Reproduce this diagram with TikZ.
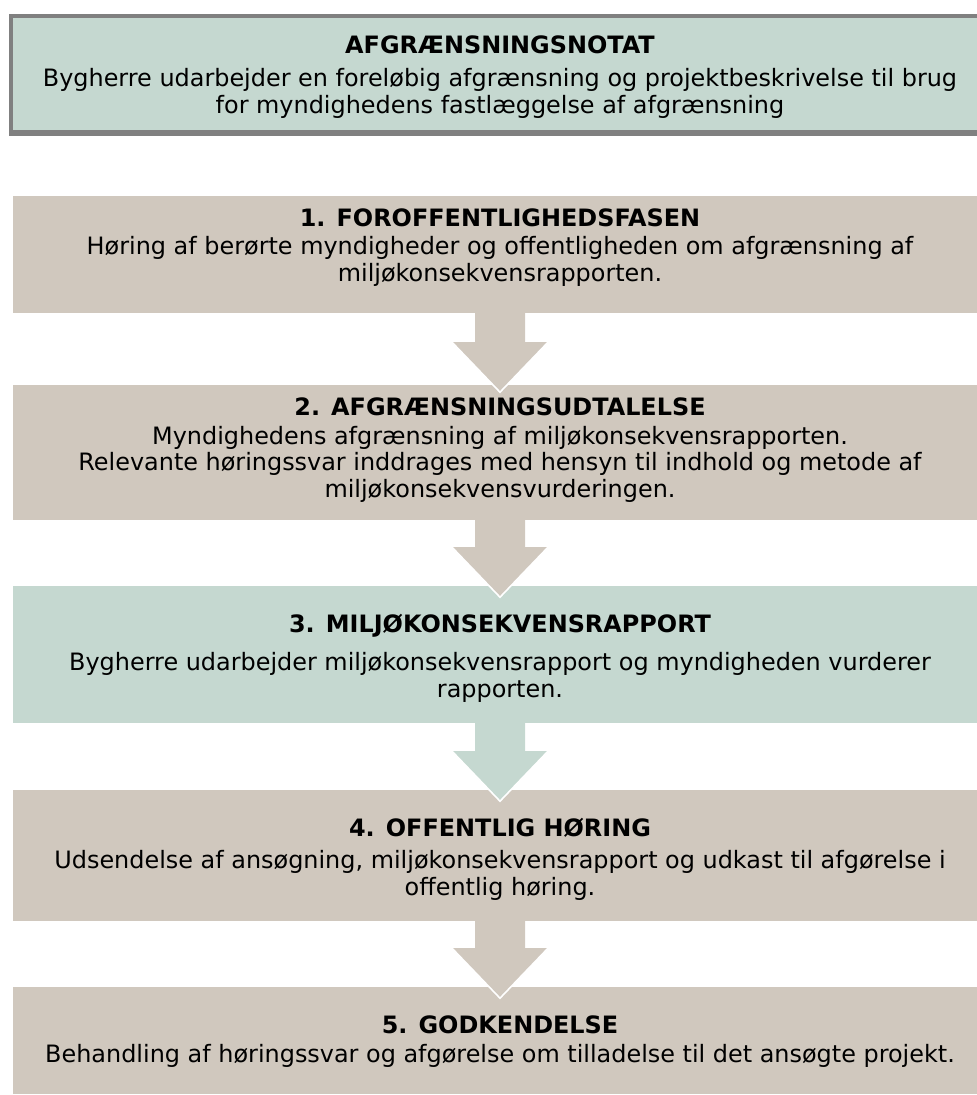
\documentclass[tikz,border=0pt]{standalone}
\usepackage{fontspec}
\setmainfont{DejaVu Sans}
\usetikzlibrary{calc}
\definecolor{sage}{RGB}{197,216,208}
\definecolor{sand}{RGB}{208,200,190}
\definecolor{frame}{RGB}{128,128,128}
\tikzset{
  boxnode/.style={rectangle, inner sep=0pt, minimum width=974bp, draw=none},
  titlenode/.style={anchor=base, inner sep=0pt, font=\fontsize{24}{27}\selectfont\bfseries},
  bodynode/.style={anchor=base, inner sep=0pt, align=center, font=\fontsize{24}{26.5}\selectfont},
  flowarrow/.style={draw=white, line width=1.6bp, line join=miter},
}
\newcommand{\flowarr}[3]{% from node, fill colour, stem length
  \fill[#2] ($(#1.south)+(-25,0)$) -- ++(0,#3) -- ++(-23,0) -- ++(48,50) -- ++(48,-50) -- ++(-23,0) -- ++(0,-#3) -- cycle;
  \draw[flowarrow] ($(#1.south)+(-48,#3)$) -- ++(48,50) -- ++(48,-50);
}
\begin{document}
\begin{tikzpicture}[x=1bp,y=-1bp]
\useasboundingbox (0,0) rectangle (977,1095);
\clip (0,0) rectangle (977,1095);
% top box
\node[boxnode, minimum width=978bp, minimum height=117bp, fill=sage, draw=frame, line width=4bp] (b0) at (500,74) {};
\fill[frame] (9,130) rectangle (991,135.5);
\node[titlenode] (t0) at (500,53) {AFGRÆNSNINGSNOTAT};
\node[bodynode, font=\fontsize{24}{27}\selectfont] (d0) at (500,113) {Bygherre udarbejder en foreløbig afgrænsning og projektbeskrivelse til brug\\for myndighedens fastlæggelse af afgrænsning};
% boxes
\node[boxnode, minimum height=117bp, fill=sand] (b1) at (500,254.5) {};
\node[boxnode, minimum height=135bp, fill=sand] (b2) at (500,452.5) {};
\node[boxnode, minimum height=137bp, fill=sage] (b3) at (500,654.5) {};
\node[boxnode, minimum height=131bp, fill=sand] (b4) at (500,855.5) {};
\node[boxnode, minimum height=107bp, fill=sand] (b5) at (500,1040.5) {};
% arrows
\flowarr{b1}{sand}{29}
\flowarr{b2}{sand}{27}
\flowarr{b3}{sage}{28}
\flowarr{b4}{sand}{27}
% texts
\node[titlenode] (t1) at (500,226) {1. FOROFFENTLIGHEDSFASEN};
\node[bodynode] (d1) at (500,281) {Høring af berørte myndigheder og offentligheden om afgrænsning af\\miljøkonsekvensrapporten.};
\node[titlenode] (t2) at (500,415) {2. AFGRÆNSNINGSUDTALELSE};
\node[bodynode] (d2) at (500,497) {Myndighedens afgrænsning af miljøkonsekvensrapporten.\\Relevante høringssvar inddrages med hensyn til indhold og metode af\\miljøkonsekvensvurderingen.};
\node[titlenode] (t3) at (500,632) {3. MILJØKONSEKVENSRAPPORT};
\node[bodynode] (d3) at (500,697) {Bygherre udarbejder miljøkonsekvensrapport og myndigheden vurderer\\rapporten.};
\node[titlenode] (t4) at (500,836) {4. OFFENTLIG HØRING};
\node[bodynode] (d4) at (500,895) {Udsendelse af ansøgning, miljøkonsekvensrapport og udkast til afgørelse i\\offentlig høring.};
\node[titlenode] (t5) at (500,1033) {5. GODKENDELSE};
\node[bodynode] (d5) at (500,1062) {Behandling af høringssvar og afgørelse om tilladelse til det ansøgte projekt.};
\end{tikzpicture}
\end{document}
